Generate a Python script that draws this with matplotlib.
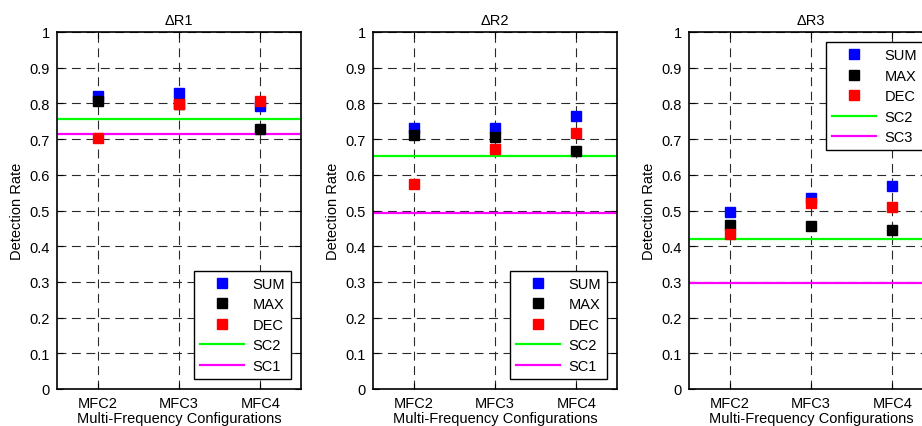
import numpy as np
import matplotlib
matplotlib.use("Agg")
import matplotlib.pyplot as plt

plt.rcParams['font.family'] = ['Liberation Sans', 'DejaVu Sans']

configs = ["MFC2", "MFC3", "MFC4"]
titles  = ["\u0394R1", "\u0394R2", "\u0394R3"]

# detection rates per panel (SUM, MAX, DEC) at each configuration
sum_rates = [[0.822, 0.828, 0.792], [0.732, 0.732, 0.765], [0.495, 0.536, 0.570]]
max_rates = [[0.806, 0.798, 0.729], [0.712, 0.706, 0.668], [0.458, 0.456, 0.445]]
dec_rates = [[0.702, 0.798, 0.806], [0.574, 0.672, 0.717], [0.435, 0.521, 0.509]]

# single-configuration reference levels
sc2_levels   = [0.757, 0.653, 0.420]
sc_low       = [0.714, 0.494, 0.297]
sc_low_names = ["SC1", "SC1", "SC3"]
legend_locs  = ["lower right", "lower right", "upper right"]


def draw_panel(ax, i):
    x = np.arange(1, len(configs) + 1)
    ms = 6.5
    ax.plot(x, sum_rates[i], 's', color='blue', ms=ms, mec='blue', label="SUM", zorder=3)
    ax.plot(x, max_rates[i], 's', color='black', ms=ms, mec='black', label="MAX", zorder=3)
    ax.plot(x, dec_rates[i], 's', color='red', ms=ms, mec='red', label="DEC", zorder=3)
    ax.axhline(sc2_levels[i], color=(0, 1, 0), lw=1.6, label="SC2", zorder=2)
    ax.axhline(sc_low[i], color=(1, 0, 1), lw=1.6, label=sc_low_names[i], zorder=2)

    ax.set_xlim(0.5, 3.5)
    ax.set_ylim(0, 1)
    ax.set_xticks(x)
    ax.set_xticklabels(configs)
    ax.set_yticks(np.arange(0, 1.01, 0.1))
    ax.set_yticklabels(["0"] + ["%.1f" % v for v in np.arange(0.1, 0.95, 0.1)] + ["1"])
    ax.tick_params(direction='in', length=4, width=0.8, labelsize=10.5, top=True, right=True, pad=5)
    ax.grid(True, color='#2a2a2a', ls=(0, (8, 5)), lw=0.8)
    for sp in ax.spines.values():
        sp.set_linewidth(1.2)

    ax.set_title(titles[i], fontsize=10.5, pad=6)
    ax.set_xlabel("Multi-Frequency Configurations", fontsize=10.5, labelpad=1)
    ax.set_ylabel("Detection Rate", fontsize=10.5, labelpad=4)

    leg = ax.legend(loc=legend_locs[i], fontsize=10.5, handlelength=3.0, fancybox=False,
                    framealpha=1, edgecolor='black', borderaxespad=0.7,
                    labelspacing=0.45, handletextpad=0.6)
    leg.get_frame().set_linewidth(1.0)


fig = plt.figure(figsize=(9.22, 4.27), dpi=100)
W, H = 922.0, 427.0
lefts = [57, 373, 689]
for i, left in enumerate(lefts):
    ax = fig.add_axes([left / W, 37 / H, 244 / W, 357 / H])
    draw_panel(ax, i)

fig.savefig("out.png", dpi=100)
